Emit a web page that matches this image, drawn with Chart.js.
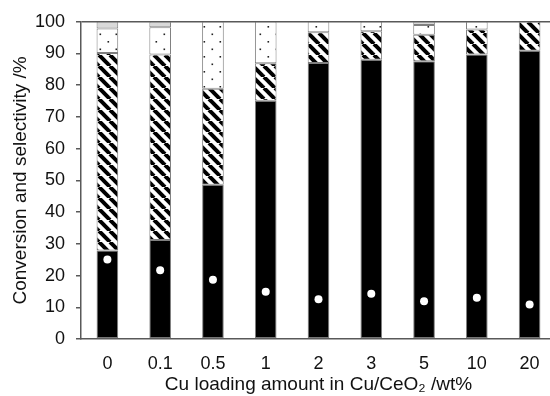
<!DOCTYPE html>
<html>
<head>
<meta charset="utf-8">
<script src="https://cdn.jsdelivr.net/npm/chart.js@4"></script>
<style>
  html, body { margin: 0; padding: 0; overflow: hidden; background: #fff; }
  #wrap { width: 560px; height: 396px; }
</style>
</head>
<body>
<div id="wrap"><canvas id="chart"></canvas></div>
<script>
// Cu loading (wt%) categories
const loadings = ["0", "0.1", "0.5", "1", "2", "3", "5", "10", "20"];

// selectivity segments (%), bottom to top
const selBlack  = [27.9, 31.2, 48.6, 75.1, 87.0, 88.0, 87.6, 89.7, 90.9];
const selHatch  = [62.3, 58.5, 30.3, 11.8,  9.7,  9.0,  8.3,  7.9,  9.1];
const selDots   = [ 7.7,  8.6, 21.1, 13.1,  3.3,  3.0,  3.1,  2.4,  0.0];
const selGray   = [ 2.1,  1.7,  0.0,  0.0,  0.0,  0.0,  1.0,  0.0,  0.0];

// conversion (%)
const conversion = [25.1, 21.7, 18.7, 14.9, 12.5, 14.3, 11.9, 13.0, 10.9];

const yTicks = [0, 10, 20, 30, 40, 50, 60, 70, 80, 90, 100];

const axisColor = "#595959";
const textColor = "#111";
const fontFamily = "'Liberation Sans', Arial, sans-serif";

// diagonal stripes "\" direction
function makeHatch() {
  const n = 11;
  const c = document.createElement("canvas");
  c.width = n; c.height = n;
  const g = c.getContext("2d");
  g.fillStyle = "#fff";
  g.fillRect(0, 0, n, n);
  g.strokeStyle = "#000";
  g.lineWidth = 4;
  for (const o of [-n, 0, n]) {
    g.beginPath();
    g.moveTo(o, 0);
    g.lineTo(o + n, n);
    g.stroke();
  }
  return g.createPattern(c, "repeat");
}

// sparse dots
function makeDots() {
  const c = document.createElement("canvas");
  c.width = 16; c.height = 15;
  const g = c.getContext("2d");
  g.fillStyle = "#fff";
  g.fillRect(0, 0, 16, 15);
  g.fillStyle = "#222";
  g.fillRect(3.5, 3.5, 1.6, 1.6);
  g.fillRect(11.5, 11, 1.6, 1.6);
  return g.createPattern(c, "repeat");
}

const barStyle = {
  type: "bar",
  borderColor: "#7f7f7f",
  borderWidth: 1,
  borderSkipped: false,
  categoryPercentage: 1,
  barPercentage: 0.41,
  stack: "sel",
  order: 1,
};

const ctx = document.getElementById("chart").getContext("2d");

new Chart(ctx, {
  data: {
    labels: loadings,
    datasets: [
      { ...barStyle, label: "black", data: selBlack, backgroundColor: "#000" },
      { ...barStyle, label: "hatch", data: selHatch, backgroundColor: makeHatch() },
      { ...barStyle, label: "dots", data: selDots, backgroundColor: makeDots() },
      { ...barStyle, label: "gray", data: selGray, backgroundColor: "#d9d9d9" },
      {
        type: "line",
        label: "conversion",
        data: conversion,
        showLine: false,
        pointRadius: 4,
        pointBackgroundColor: "#fff",
        pointBorderWidth: 0,
        pointBorderColor: "#fff",
        stack: "conv",
        order: 0,
      },
    ],
  },
  options: {
    responsive: true,
    maintainAspectRatio: false,
    animation: false,
    devicePixelRatio: 1,
    layout: { padding: { top: 18, right: 3, bottom: 0, left: 0 } },
    plugins: {
      legend: { display: false },
      tooltip: { enabled: false },
    },
    scales: {
      x: {
        stacked: true,
        offset: true,
        grid: { display: false },
        border: { display: true, color: axisColor, width: 1.5 },
        ticks: {
          color: textColor,
          padding: 6,
          font: { family: fontFamily, size: 18 },
        },
        title: {
          display: true,
          text: "Cu loading amount in Cu/CeO\u2082 /wt%",
          color: textColor,
          padding: { top: 0, bottom: 0 },
          font: { family: fontFamily, size: 19 },
        },
        afterFit: (s) => { s.height = 57; },
      },
      y: {
        stacked: true,
        min: 0,
        max: 100,
        afterBuildTicks: (s) => { s.ticks = yTicks.map((v) => ({ value: v })); },
        grid: {
          display: true,
          drawOnChartArea: true,
          drawTicks: true,
          tickLength: 5,
          tickColor: axisColor,
          tickWidth: 1.5,
          color: (c) => (c.tick && c.tick.value === 100 ? axisColor : "rgba(0,0,0,0)"),
          lineWidth: 1.5,
        },
        border: { display: true, color: axisColor, width: 1.5 },
        ticks: {
          color: textColor,
          padding: 11,
          font: { family: fontFamily, size: 18 },
        },
        title: {
          display: true,
          text: "Conversion and selectivity /%",
          color: textColor,
          padding: { top: 9, bottom: 0 },
          font: { family: fontFamily, size: 19 },
        },
        afterFit: (s) => { s.width = 81; },
      },
    },
  },
});
</script>
</body>
</html>
